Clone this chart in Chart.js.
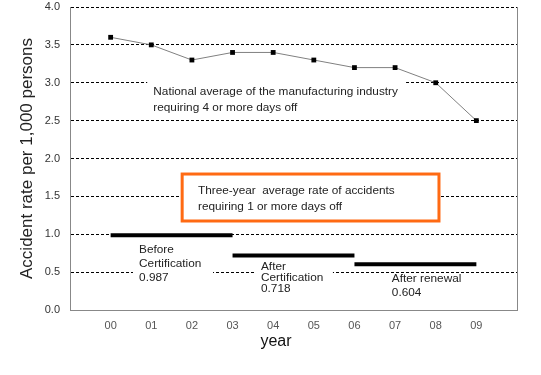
<!DOCTYPE html>
<html><head><meta charset="utf-8">
<script src="https://cdn.jsdelivr.net/npm/chart.js@4/dist/chart.umd.min.js"></script>
<style>html,body{margin:0;padding:0;background:#fff}</style>
</head><body>
<canvas id="c" width="541" height="375"></canvas>
<script>
// ---- data ----
const yearLabels = ['00','01','02','03','04','05','06','07','08','09'];
const nationalRates = [3.6, 3.5, 3.3, 3.4, 3.4, 3.3, 3.2, 3.2, 3.0, 2.5];
const periodNames = ['Before Certification', 'After Certification', 'After renewal'];
const periodStart = [0, 3, 6];
const periodEnd = [3, 6, 9];
const threeYearAvg = [0.987, 0.718, 0.604];
const yTickLabels = ['0.0','0.5','1.0','1.5','2.0','2.5','3.0','3.5','4.0'];

const periodDatasets = periodNames.map((n, i) => ({
  label: n,
  data: [{x: periodStart[i], y: threeYearAvg[i]}, {x: periodEnd[i], y: threeYearAvg[i]}],
  borderColor: '#000', borderWidth: 4, pointRadius: 0, showLine: true
}));

const FONT = '11.8px "Liberation Sans", Arial, sans-serif';
const annotations = {
  id: 'annotations',
  beforeDatasetsDraw(chart) {
    const {ctx, chartArea: a, scales: {x, y}} = chart;
    const X = v => x.getPixelForValue(v), Y = v => y.getPixelForValue(v);
    ctx.save();
    // right border
    ctx.strokeStyle = '#888'; ctx.lineWidth = 1;
    ctx.beginPath(); ctx.moveTo(a.right + 0.5, a.top); ctx.lineTo(a.right + 0.5, a.bottom); ctx.stroke();
    // white gaps behind labels
    ctx.fillStyle = '#fff';
    const gaps = [[0.9, 7.27, 2.6, 3.1], [0.55, 2.52, 0.3, 0.9], [3.55, 5.47, 0.2, 0.68]];
    gaps.forEach(g => ctx.fillRect(X(g[0]), Y(g[3]), X(g[1]) - X(g[0]), Y(g[2]) - Y(g[3])));
    // orange box
    const bx0 = X(1.76), bx1 = X(8.08), by0 = Y(1.795), by1 = Y(1.175);
    ctx.fillRect(bx0, by0, bx1 - bx0, by1 - by0);
    ctx.strokeStyle = '#FF6A13'; ctx.lineWidth = 3;
    ctx.strokeRect(bx0, by0, bx1 - bx0, by1 - by0);
    // texts
    ctx.fillStyle = '#222'; ctx.font = FONT; ctx.textAlign = 'left'; ctx.textBaseline = 'middle';
    const texts = [
      {x: 1.05, y: 2.88, dy: 16, lines: ['National average of the manufacturing industry', 'requiring 4 or more days off']},
      {x: 2.15, y: 1.571, dy: 16, lines: ['Three-year  average rate of accidents', 'requiring 1 or more days off']},
      {x: 0.70, y: 0.792, dy: 14, lines: ['Before', 'Certification', threeYearAvg[0].toFixed(3)]},
      {x: 3.70, y: 0.568, dy: 11, lines: ['After', 'Certification', threeYearAvg[1].toFixed(3)]},
      {x: 6.92, y: 0.409, dy: 14, lines: ['After renewal', threeYearAvg[2].toFixed(3)]}
    ];
    texts.forEach(t => t.lines.forEach((l, i) => ctx.fillText(l, X(t.x), Y(t.y) + i * t.dy)));
    // x axis title
    ctx.fillStyle = '#111'; ctx.font = '16px "Liberation Sans", Arial, sans-serif'; ctx.textAlign = 'center';
    ctx.fillText('year', X(4.07), a.bottom + 32);
    ctx.restore();
  }
};

new Chart(document.getElementById('c'), {
  type: 'scatter',
  data: {
    datasets: [{
      label: 'National average',
      data: nationalRates.map((v, i) => ({x: i, y: v})),
      showLine: true, borderColor: '#808080', borderWidth: 1,
      pointStyle: 'rect', pointRadius: 3.4, pointBackgroundColor: '#000', pointBorderColor: '#000', pointBorderWidth: 0
    }, ...periodDatasets]
  },
  options: {
    responsive: false, animation: false,
    layout: {padding: {top: 7, right: 24, left: 0, bottom: 0}},
    plugins: {legend: {display: false}, tooltip: {enabled: false}},
    scales: {
      x: {
        type: 'linear', min: -1, max: 10,
        afterFit: s => { s.height = 65; s.paddingLeft = 0; s.paddingRight = 0; },
        grid: {display: false, drawTicks: false},
        border: {display: true, color: '#888', width: 1},
        ticks: {stepSize: 1, padding: 9, color: '#555', font: {family: '"Liberation Sans", Arial, sans-serif', size: 11},
          autoSkip: false, maxRotation: 0,
          callback: v => (v >= 0 && v < yearLabels.length) ? yearLabels[v] : ''}
      },
      y: {
        min: 0, max: 4,
        afterFit: s => { s.width = 70; s.paddingTop = 0; s.paddingBottom = 0; },
        grid: {drawTicks: false, color: c => c.tick && c.tick.value === 0 ? 'rgba(0,0,0,0)' : '#000', lineWidth: 1},
        border: {display: true, color: '#888', width: 1, dash: [3, 2]},
        ticks: {stepSize: 0.5, padding: 10, color: '#333', font: {family: '"Liberation Sans", Arial, sans-serif', size: 11},
          callback: (v) => yTickLabels[Math.round(v * 2)]},
        title: {display: true, text: 'Accident rate per 1,000 persons', color: '#222',
          font: {family: '"Liberation Sans", Arial, sans-serif', size: 17}, padding: {top: 17, bottom: 0}}
      }
    }
  },
  plugins: [annotations]
});
</script>
</body></html>
